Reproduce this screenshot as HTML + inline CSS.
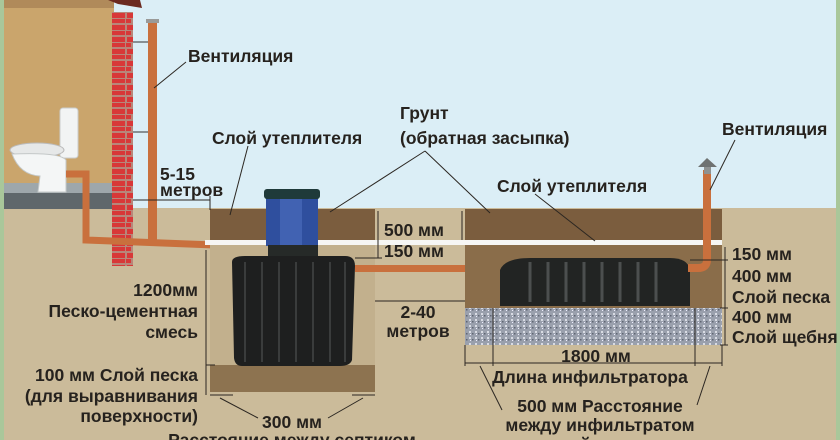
<!DOCTYPE html>
<html><head><meta charset="utf-8"><style>
html,body{margin:0;padding:0;width:840px;height:440px;overflow:hidden;background:#cbbb9a}
svg{display:block}
text{font-family:"Liberation Sans",sans-serif;font-weight:bold;font-size:17.5px;fill:#26221e}
</style></head><body>
<svg width="840" height="440" viewBox="0 0 840 440" xmlns="http://www.w3.org/2000/svg">
<defs>
<pattern id="grav" width="6" height="6" patternUnits="userSpaceOnUse">
<rect width="6" height="6" fill="#9aa0ad"/><rect x="1" y="1" width="2" height="2" fill="#d8dbe3"/><rect x="4" y="3" width="1.5" height="1.5" fill="#5f6572"/><rect x="2" y="4" width="1" height="1" fill="#eef"/>
</pattern>
<pattern id="brick" width="21" height="12" patternUnits="userSpaceOnUse">
<rect width="21" height="12" fill="#b8867a"/><rect x="1" y="1" width="19" height="5" fill="#d83838"/><rect x="-9" y="7" width="14" height="4" fill="#d83838"/><rect x="7" y="7" width="13" height="4" fill="#d83838"/>
</pattern>
</defs>
<rect x="0" y="0" width="840" height="209" fill="#dbeef6"/>
<rect x="0" y="208" width="840" height="232" fill="#cbbb9a"/>
<rect x="0" y="0" width="4" height="440" fill="#a9c79a"/>
<rect x="836" y="0" width="4" height="440" fill="#a9c79a"/>
<rect x="4" y="0" width="110" height="184" fill="#caa56c"/>
<rect x="4" y="0" width="110" height="8" fill="#b08a5a"/>
<rect x="4" y="183" width="110" height="10" fill="#9ea7ab"/>
<rect x="4" y="193" width="110" height="16" fill="#5f676b"/>
<polygon points="108,0 140,0 142,8 118,4" fill="#6b2a20"/>
<rect x="112" y="12" width="21" height="254" fill="url(#brick)"/>
<rect x="60" y="108" width="18" height="50" rx="3" fill="#f2f4f4" stroke="#c9cdcd"/>
<ellipse cx="37" cy="150" rx="27" ry="7" fill="#e6e8e8" stroke="#bbb"/>
<path d="M12 154 Q20 175 40 176 L38 192 L66 192 L66 160 Q60 152 12 154Z" fill="#f4f6f6" stroke="#c4c8c8"/>
<path d="M66 174 L86 174 L86 240 L240 246 Q250 247 250 257" fill="none" stroke="#c9703d" stroke-width="7"/>
<rect x="148" y="22" width="9" height="218" fill="#c9703d"/>
<rect x="146" y="19" width="13" height="4" fill="#9a9a98"/>
<line x1="133" y1="42" x2="148" y2="42" stroke="#333" stroke-width="1"/>
<line x1="133" y1="132" x2="148" y2="132" stroke="#333" stroke-width="1"/>
<rect x="210" y="209" width="165" height="31" fill="#7b5d3e"/>
<rect x="205" y="240" width="265" height="5" fill="#f6f6f4"/>
<rect x="210" y="245" width="165" height="120" fill="#c2b08d"/>
<rect x="210" y="365" width="165" height="27" fill="#8d7350"/>
<rect x="266" y="198" width="52" height="48" fill="#2f4f9e"/>
<rect x="280" y="198" width="22" height="48" fill="#4e6fc0" opacity=".6"/>
<rect x="264" y="189" width="56" height="10" rx="3" fill="#1f3a3a"/>
<rect x="268" y="245" width="50" height="13" fill="#262a28"/>
<path d="M232 262 Q232 256 245 256 L345 256 Q355 256 355 266 L352 360 Q350 366 340 366 L242 366 Q235 366 234 358 Z" fill="#1e1f1f"/>
<g stroke="#3a3c3c" stroke-width="2">
<line x1="245" y1="262" x2="245" y2="362"/><line x1="262" y1="262" x2="262" y2="362"/><line x1="279" y1="262" x2="279" y2="362"/><line x1="296" y1="262" x2="296" y2="362"/><line x1="313" y1="262" x2="313" y2="362"/><line x1="330" y1="262" x2="330" y2="362"/><line x1="345" y1="262" x2="345" y2="362"/>
</g>
<rect x="355" y="265" width="150" height="7" fill="#c9703d"/>
<rect x="465" y="209" width="257" height="31" fill="#7b5d3e"/>
<rect x="465" y="240" width="257" height="5" fill="#f6f6f4"/>
<rect x="465" y="245" width="257" height="63" fill="#8a6d4a"/>
<rect x="465" y="308" width="257" height="37" fill="url(#grav)"/>
<path d="M500 270 Q505 258 530 258 L670 258 Q688 258 690 270 L690 306 L500 306 Z" fill="#222423"/>
<g stroke="#4c4f4f" stroke-width="3">
<line x1="530" y1="262" x2="530" y2="302"/><line x1="548" y1="262" x2="548" y2="302"/><line x1="566" y1="262" x2="566" y2="302"/><line x1="584" y1="262" x2="584" y2="302"/><line x1="602" y1="262" x2="602" y2="302"/><line x1="620" y1="262" x2="620" y2="302"/><line x1="638" y1="262" x2="638" y2="302"/><line x1="656" y1="262" x2="656" y2="302"/>
</g>
<path d="M707 170 L707 260 Q707 268 698 268 L688 268" fill="none" stroke="#c9703d" stroke-width="8"/>
<rect x="704" y="166" width="7" height="8" fill="#8f9291"/>
<path d="M698 167 L717 167 L707 158 Z" fill="#6f7271"/>
<g stroke="#2b2621" stroke-width="1" fill="none">
<line x1="186" y1="62" x2="154" y2="88"/>
<line x1="248" y1="146" x2="230" y2="215"/>
<line x1="425" y1="151" x2="330" y2="212"/>
<line x1="425" y1="151" x2="490" y2="213"/>
<line x1="535" y1="194" x2="595" y2="241"/>
<line x1="735" y1="140" x2="710" y2="190"/>
<line x1="133" y1="200" x2="210" y2="200"/>
<line x1="210" y1="196" x2="210" y2="210"/>
<line x1="378" y1="211" x2="378" y2="258"/>
<line x1="462" y1="211" x2="462" y2="240"/>
<line x1="355" y1="258" x2="382" y2="258"/>
<line x1="206" y1="250" x2="206" y2="395"/>
<line x1="206" y1="365" x2="215" y2="365"/>
<line x1="210" y1="395" x2="233" y2="395"/>
<line x1="352" y1="395" x2="375" y2="395"/>
<line x1="220" y1="398" x2="258" y2="418"/>
<line x1="363" y1="398" x2="328" y2="418"/>
<line x1="375" y1="301" x2="465" y2="301"/>
<line x1="725" y1="247" x2="725" y2="345"/>
<line x1="690" y1="260" x2="728" y2="260"/>
<line x1="720" y1="308" x2="728" y2="308"/>
<line x1="720" y1="345" x2="728" y2="345"/>
<line x1="465" y1="345" x2="465" y2="366"/>
<line x1="722" y1="345" x2="722" y2="366"/>
<line x1="493" y1="308" x2="493" y2="366"/>
<line x1="695" y1="308" x2="695" y2="366"/>
<line x1="465" y1="363" x2="722" y2="363"/>
<line x1="480" y1="366" x2="502" y2="410"/>
<line x1="710" y1="366" x2="697" y2="405"/>
</g>
<text x="188" y="62">Вентиляция</text>
<text x="212" y="144">Слой утеплителя</text>
<text x="400" y="119">Грунт</text>
<text x="400" y="144">(обратная засыпка)</text>
<text x="722" y="135">Вентиляция</text>
<text x="497" y="192">Слой утеплителя</text>
<text x="160" y="180">5-15</text>
<text x="160" y="196">метров</text>
<text x="384" y="236">500 мм</text>
<text x="384" y="257">150 мм</text>
<text x="198" y="296" text-anchor="end">1200мм</text>
<text x="198" y="317" text-anchor="end">Песко-цементная</text>
<text x="198" y="338" text-anchor="end">смесь</text>
<text x="198" y="381" text-anchor="end">100 мм Слой песка</text>
<text x="198" y="402" text-anchor="end">(для выравнивания</text>
<text x="198" y="422" text-anchor="end">поверхности)</text>
<text x="292" y="428" text-anchor="middle">300 мм</text>
<text x="292" y="446" text-anchor="middle">Расстояние между септиком</text>
<text x="418" y="318" text-anchor="middle">2-40</text>
<text x="418" y="337" text-anchor="middle">метров</text>
<text x="732" y="260">150 мм</text>
<text x="732" y="282">400 мм</text>
<text x="732" y="303">Слой песка</text>
<text x="732" y="323">400 мм</text>
<text x="732" y="343">Слой щебня</text>
<text x="596" y="362" text-anchor="middle">1800 мм</text>
<text x="590" y="383" text-anchor="middle">Длина инфильтратора</text>
<text x="600" y="412" text-anchor="middle">500 мм Расстояние</text>
<text x="600" y="431" text-anchor="middle">между инфильтратом</text>
<text x="600" y="450" text-anchor="middle">и стеной котлована</text>
</svg>
</body></html>
